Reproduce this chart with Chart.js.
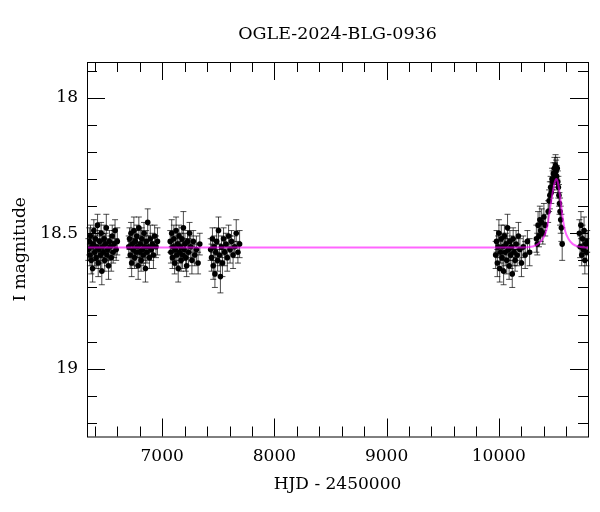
<!DOCTYPE html>
<html>
<head>
<meta charset="utf-8">
<script src="https://cdn.jsdelivr.net/npm/chart.js@4.4.1/dist/chart.umd.min.js"></script>
<style>
	html, body { margin: 0; padding: 0; background: #fff; }
	#wrap { width: 600px; height: 512px; }
</style>
</head>
<body>
<div id="wrap"><canvas id="lc"></canvas></div>
<script>
// observations: [HJD-2450000, I mag, error]
const season1 = [
	[6342,18.56,0.04],[6350,18.53,0.05],[6356,18.58,0.04],[6361,18.51,0.04],[6368,18.60,0.05],
	[6374,18.55,0.04],[6380,18.63,0.05],[6386,18.54,0.04],[6391,18.49,0.04],[6398,18.57,0.05],
	[6405,18.52,0.04],[6411,18.59,0.04],[6418,18.55,0.05],[6424,18.47,0.04],[6430,18.61,0.05],
	[6437,18.56,0.04],[6443,18.53,0.04],[6450,18.58,0.05],[6456,18.50,0.04],[6462,18.64,0.05],
	[6469,18.55,0.04],[6475,18.57,0.04],[6482,18.52,0.05],[6488,18.60,0.04],[6495,18.54,0.04],
	[6502,18.48,0.05],[6508,18.58,0.04],[6515,18.56,0.04],[6522,18.62,0.05],[6530,18.53,0.04],
	[6538,18.55,0.04],[6546,18.59,0.05],[6555,18.51,0.04],[6563,18.57,0.04],[6572,18.54,0.05],
	[6580,18.49,0.04],[6590,18.56,0.04],[6600,18.53,0.05],
]
const season2 = [
	[6702,18.55,0.04],[6709,18.52,0.04],[6715,18.58,0.05],[6722,18.50,0.04],[6728,18.61,0.05],
	[6735,18.54,0.04],[6741,18.56,0.04],[6748,18.49,0.05],[6754,18.59,0.04],[6760,18.53,0.04],
	[6767,18.57,0.05],[6773,18.51,0.04],[6780,18.55,0.04],[6786,18.62,0.05],[6792,18.48,0.04],
	[6799,18.57,0.04],[6805,18.54,0.05],[6812,18.60,0.04],[6818,18.52,0.04],[6825,18.56,0.05],
	[6831,18.58,0.04],[6838,18.50,0.04],[6844,18.55,0.05],[6851,18.63,0.05],[6857,18.53,0.04],
	[6864,18.57,0.04],[6871,18.46,0.05],[6878,18.55,0.04],[6886,18.59,0.04],[6894,18.52,0.05],
	[6903,18.56,0.04],[6912,18.54,0.04],[6922,18.58,0.05],[6933,18.51,0.04],[6945,18.55,0.04],
	[6958,18.53,0.05],
]
const season3 = [
	[7072,18.53,0.04],[7078,18.57,0.04],[7085,18.50,0.05],[7091,18.59,0.04],[7098,18.55,0.04],
	[7104,18.52,0.05],[7111,18.61,0.04],[7117,18.56,0.04],[7124,18.49,0.05],[7130,18.58,0.04],
	[7137,18.54,0.04],[7143,18.63,0.05],[7150,18.51,0.04],[7156,18.57,0.04],[7163,18.55,0.05],
	[7169,18.60,0.04],[7176,18.52,0.04],[7182,18.58,0.05],[7189,18.48,0.06],[7196,18.56,0.04],
	[7203,18.54,0.04],[7210,18.59,0.05],[7218,18.62,0.04],[7226,18.53,0.04],[7235,18.57,0.05],
	[7244,18.50,0.04],[7254,18.55,0.04],[7265,18.60,0.05],[7277,18.53,0.04],[7290,18.58,0.04],
	[7305,18.56,0.05],[7320,18.61,0.04],[7335,18.54,0.04],
]
const season4 = [
	[7432,18.56,0.04],[7440,18.59,0.05],[7448,18.52,0.04],[7455,18.62,0.05],[7463,18.55,0.04],
	[7470,18.65,0.05],[7478,18.57,0.04],[7486,18.53,0.05],[7494,18.60,0.04],[7502,18.49,0.05],
	[7510,18.58,0.04],[7519,18.66,0.06],[7528,18.55,0.04],[7537,18.61,0.05],[7547,18.52,0.04],
	[7557,18.57,0.05],[7568,18.54,0.04],[7580,18.59,0.05],[7592,18.51,0.04],[7605,18.56,0.05],
	[7618,18.53,0.04],[7632,18.58,0.05],[7646,18.55,0.04],[7660,18.50,0.05],[7675,18.57,0.04],
	[7690,18.54,0.05],
]
const season5 = [
	[9972,18.58,0.05],[9980,18.53,0.04],[9987,18.61,0.05],[9994,18.55,0.04],[10001,18.50,0.05],
	[10008,18.63,0.05],[10015,18.57,0.04],[10022,18.52,0.05],[10029,18.59,0.04],[10036,18.55,0.05],
	[10043,18.64,0.05],[10050,18.51,0.04],[10057,18.57,0.05],[10064,18.54,0.04],[10071,18.60,0.05],
	[10078,18.48,0.05],[10085,18.56,0.04],[10092,18.62,0.05],[10099,18.53,0.04],[10106,18.58,0.05],
	[10113,18.55,0.04],[10120,18.65,0.05],[10128,18.52,0.04],[10136,18.57,0.05],[10145,18.60,0.04],
	[10154,18.54,0.05],[10164,18.58,0.04],[10175,18.51,0.05],[10188,18.56,0.04],[10202,18.61,0.05],
	[10218,18.55,0.04],[10235,18.58,0.05],[10255,18.53,0.04],[10275,18.57,0.05],
]
const season6 = [
	[10335,18.52,0.05],[10343,18.54,0.04],[10350,18.47,0.05],[10358,18.51,0.04],[10366,18.45,0.05],
	[10374,18.49,0.04],[10382,18.46,0.05],[10392,18.50,0.04],[10402,18.44,0.05],[10414,18.47,0.04],
	[10440,18.42,0.04],[10448,18.38,0.04],[10455,18.36,0.05],[10462,18.33,0.04],[10468,18.35,0.04],
	[10474,18.30,0.04],[10480,18.31,0.04],[10486,18.28,0.04],[10491,18.30,0.04],[10496,18.26,0.04],
	[10501,18.28,0.04],[10506,18.25,0.04],[10511,18.27,0.04],[10516,18.29,0.04],[10521,18.26,0.04],
	[10526,18.31,0.04],[10531,18.33,0.04],[10536,18.36,0.04],[10541,18.39,0.04],[10546,18.42,0.05],
	[10552,18.45,0.05],[10558,18.48,0.05],[10565,18.54,0.06],
	[10718,18.50,0.05],[10725,18.55,0.04],[10732,18.47,0.05],[10739,18.58,0.04],[10746,18.52,0.05],
	[10753,18.56,0.04],[10760,18.49,0.05],[10767,18.60,0.05],[10774,18.54,0.04],[10781,18.57,0.05],
	[10788,18.53,0.04],
]

// microlensing model
const modelHjd = [6330, 10200, 10300, 10350, 10400, 10430, 10460, 10480, 10500, 10512, 10525, 10545, 10565, 10590, 10620, 10660, 10720, 10795]
const modelMag = [18.553, 18.553, 18.549, 18.54, 18.515, 18.48, 18.40, 18.35, 18.31, 18.30, 18.31, 18.36, 18.43, 18.49, 18.52, 18.54, 18.55, 18.553]

const xMajor = [7000, 8000, 9000, 10000]
const xMinor = [6400, 6600, 6800, 7200, 7400, 7600, 7800, 8200, 8400, 8600, 8800, 9200, 9400, 9600, 9800, 10200, 10400, 10600]
const yMajor = [18, 18.5, 19]
const yMinor = [17.9, 18.1, 18.2, 18.3, 18.4, 18.6, 18.7, 18.8, 18.9, 19.1, 19.2]

const obs = [...season1, ...season2, ...season3, ...season4, ...season5, ...season6]
const serif = 'DejaVu Serif'

// error bars + inward ticks on all four sides
const framePlugin = {
	id: 'frame',
	beforeDatasetsDraw(chart) {
		const { ctx, scales: { x, y } } = chart
		ctx.save()
		ctx.strokeStyle = 'rgba(0,0,0,0.7)'
		ctx.lineWidth = 1
		ctx.beginPath()
		obs.forEach((o) => {
			const px = x.getPixelForValue(o[0])
			const y1 = y.getPixelForValue(o[1] - o[2])
			const y2 = y.getPixelForValue(o[1] + o[2])
			ctx.moveTo(px, y1); ctx.lineTo(px, y2)
			ctx.moveTo(px - 3, y1); ctx.lineTo(px + 3, y1)
			ctx.moveTo(px - 3, y2); ctx.lineTo(px + 3, y2)
		})
		ctx.stroke()
		ctx.restore()
	},
	afterDraw(chart) {
		const { ctx, chartArea: a, scales: { x, y } } = chart
		ctx.save()
		ctx.strokeStyle = '#000'
		ctx.lineWidth = 1
		ctx.beginPath()
		const xt = (v, len) => {
			const px = Math.round(x.getPixelForValue(v)) + 0.5
			ctx.moveTo(px, a.bottom); ctx.lineTo(px, a.bottom - len)
			ctx.moveTo(px, a.top); ctx.lineTo(px, a.top + len)
		}
		const yt = (v, len) => {
			const py = Math.round(y.getPixelForValue(v)) + 0.5
			ctx.moveTo(a.left, py); ctx.lineTo(a.left + len, py)
			ctx.moveTo(a.right, py); ctx.lineTo(a.right - len, py)
		}
		xMajor.forEach((v) => xt(v, 18))
		xMinor.forEach((v) => xt(v, 10))
		yMajor.forEach((v) => yt(v, 18))
		yMinor.forEach((v) => yt(v, 10))
		ctx.stroke()
		ctx.strokeRect(a.left + 0.5, a.top + 0.5, a.right - a.left, a.bottom - a.top)
		ctx.restore()
	},
}

const config = {
	type: 'scatter',
	data: {
		datasets: [
			{
				type: 'line',
				data: modelHjd.map((h, i) => ({ x: h, y: modelMag[i] })),
				borderColor: 'rgba(255,0,255,0.6)',
				borderWidth: 2,
				pointRadius: 0,
				cubicInterpolationMode: 'monotone',
				order: 0,
			},
			{
				data: obs.map((o) => ({ x: o[0], y: o[1] })),
				backgroundColor: '#000',
				borderColor: '#000',
				pointRadius: 2.8,
				borderWidth: 0,
				order: 1,
			},
		],
	},
	options: {
		responsive: true,
		maintainAspectRatio: false,
		animation: false,
		layout: { padding: { left: 0, right: 12, top: 0, bottom: 0 } },
		plugins: {
			legend: { display: false },
			tooltip: { enabled: false },
			title: {
				display: true,
				fullSize: false,
				text: 'OGLE-2024-BLG-0936',
				color: '#000',
				font: { family: serif, size: 17.5, weight: 'normal' },
				padding: { top: 24, bottom: 17 },
			},
		},
		scales: {
			x: {
				type: 'linear',
				min: 6330,
				max: 10795,
				afterBuildTicks: (s) => { s.ticks = xMajor.map((v) => ({ value: v })) },
				afterFit: (s) => { s.height = 75.5 },
				grid: { display: false, drawTicks: false },
				border: { display: false },
				ticks: {
					color: '#000', padding: 10, maxRotation: 0,
					font: { family: serif, size: 17 },
					callback: (v) => String(v),
				},
				title: {
					display: true,
					text: 'HJD - 2450000',
					color: '#000',
					font: { family: serif, size: 17 },
					padding: { top: 0, bottom: 17 },
				},
			},
			y: {
				type: 'linear',
				reverse: true,
				min: 17.868,
				max: 19.25,
				afterBuildTicks: (s) => { s.ticks = yMajor.map((v) => ({ value: v })) },
				afterFit: (s) => { s.width = 87 },
				grid: { display: false, drawTicks: false },
				border: { display: false },
				ticks: {
					color: '#000', padding: 9,
					font: { family: serif, size: 17 },
					callback: (v) => String(v),
				},
				title: {
					display: true,
					text: 'I magnitude',
					color: '#000',
					font: { family: serif, size: 17 },
					padding: { top: 10, bottom: 0 },
				},
			},
		},
	},
	plugins: [framePlugin],
}

const lc = new Chart(document.getElementById('lc'), config)
</script>
</body>
</html>
